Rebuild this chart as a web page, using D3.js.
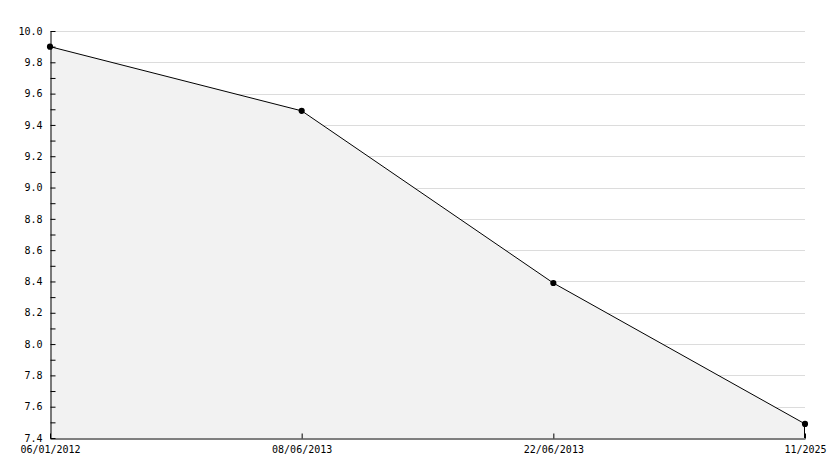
<!DOCTYPE html>
<html><head><meta charset="utf-8">
<script src="https://cdn.jsdelivr.net/npm/d3@7"></script>
<style>body{margin:0;background:#fff}svg{display:block}text{font-family:"DejaVu Sans Mono",monospace;font-size:10px;fill:#000}</style>
</head><body>
<script>
const categories = ["06/01/2012","08/06/2013","22/06/2013","11/2025"];
const values = [9.9, 9.49, 8.39, 7.49];
const yTicks = [7.4,7.6,7.8,8.0,8.2,8.4,8.6,8.8,9.0,9.2,9.4,9.6,9.8,10.0];
const yMinorTicks = [7.5,7.7,7.9,8.1,8.3,8.5,8.7,8.9,9.1,9.3,9.5,9.7,9.9];

const W=834,H=468, L=50, R=805, T=31, B=438;
const svg=d3.select("body").append("svg").attr("width",W).attr("height",H);
const x=d3.scalePoint().domain(categories).range([L,R]);
const y=d3.scaleLinear().domain([7.4,10.0]).range([B,T]);

// grid
svg.append("g").selectAll("line").data(yTicks.slice(1)).join("line")
  .attr("x1",L).attr("x2",R).attr("y1",d=>Math.round(y(d))+0.5).attr("y2",d=>Math.round(y(d))+0.5)
  .attr("stroke","#dcdcdc").attr("stroke-width",1);

// area
const data=categories.map((c,i)=>({c,v:values[i]}));
svg.append("path").datum(data)
  .attr("d",d3.area().x(d=>x(d.c)).y0(B).y1(d=>y(d.v)))
  .attr("fill","#f2f2f2").attr("stroke","none");
svg.append("line").attr("x1",R-0.5).attr("x2",R-0.5).attr("y1",y(values[3])).attr("y2",B).attr("stroke","#000");
svg.append("path").datum(data)
  .attr("d",d3.line().x(d=>x(d.c)).y(d=>y(d.v)))
  .attr("fill","none").attr("stroke","#000").attr("stroke-width",1);

// y axis
const ya=svg.append("g").attr("transform",`translate(${L+0.5},0)`)
  .call(d3.axisLeft(y).tickValues(yTicks).tickFormat(d3.format(".1f")).tickSize(-5).tickSizeOuter(0).tickPadding(8));
ya.select(".domain").attr("stroke","#000");
ya.selectAll("text").style("font-family","DejaVu Sans Mono").style("font-size","10px");
ya.selectAll(".tick line").attr("stroke","#000");
svg.append("g").attr("transform",`translate(${L+0.5},0)`)
  .call(d3.axisLeft(y).tickValues(yMinorTicks).tickFormat("").tickSize(-5).tickSizeOuter(0))
  .select(".domain").remove();

// x axis
const xa=svg.append("g").attr("transform",`translate(0,${B+0.5})`)
  .call(d3.axisBottom(x).tickSize(-5).tickSizeOuter(0).tickPadding(7));
xa.select(".domain").attr("stroke","#000");
xa.selectAll("text").style("font-family","DejaVu Sans Mono").style("font-size","10px");
xa.selectAll(".tick line").attr("stroke","#000");

// markers
svg.append("g").selectAll("path").data(data).join("path")
  .attr("transform",d=>`translate(${x(d.c)},${y(d.v)})`)
  .attr("d",d3.symbol(d3.symbolCircle,30))
  .attr("fill","#000");
</script>
</body></html>
